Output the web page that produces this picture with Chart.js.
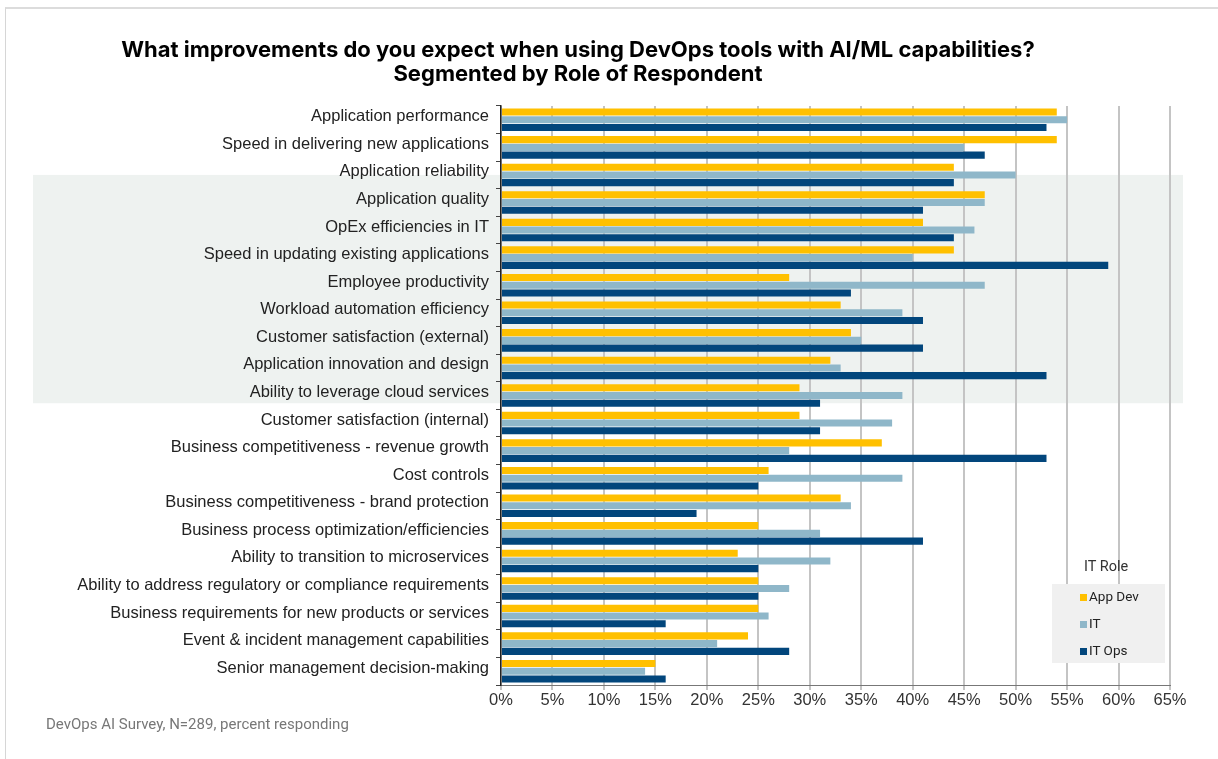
<!DOCTYPE html>
<html lang="en">
<head>
<meta charset="UTF-8">
<title>DevOps tools with AI/ML capabilities</title>
<script src="https://cdn.jsdelivr.net/npm/chart.js@4.4.0/dist/chart.umd.min.js"></script>
<style>
  body { margin: 0; background: #fff; }
  #wrap { position: relative; width: 1218px; height: 759px; overflow: hidden; }
  #frame { position: absolute; left: 5px; top: 7px; width: 1300px; height: 800px;
           border-left: 1px solid #d6d6d6; border-top: 2px solid #dcdcdc; }
  #chartBox { position: absolute; left: 0; top: 0; width: 1218px; height: 759px; }
  #title { position: absolute; left: 0; top: 37px; width: 1156px; text-align: center;
           font: 700 22px Inter, sans-serif; line-height: 24px; color: #000; }
  #note { position: absolute; left: 46px; top: 715px; font: 15px Roboto, sans-serif; color: #777; }
  #legendTitle { position: absolute; left: 1084px; top: 558px; font: 14.5px Roboto, sans-serif; color: #333; }
  #legend { position: absolute; left: 1052px; top: 584px; width: 113px; height: 79px; background: #f0f0f0; }
  #legend div { position: absolute; left: 28px; font: 13.5px Roboto, sans-serif; color: #222; }
  #legend span { display: inline-block; width: 7px; height: 7px; margin-right: 2px; }
</style>
</head>
<body>
<div id="wrap">
  <div id="frame"></div>
  <div id="chartBox"><canvas id="chart"></canvas></div>
  <div id="title">What improvements do you expect when using DevOps tools with AI/ML capabilities?<br>Segmented by Role of Respondent</div>
  <div id="legendTitle">IT Role</div>
  <div id="legend"></div>
  <div id="note">DevOps AI Survey, N=289, percent responding</div>
</div>
<script>
const categories = [
  'Application performance',
  'Speed in delivering new applications',
  'Application reliability',
  'Application quality',
  'OpEx efficiencies in IT',
  'Speed in updating existing applications',
  'Employee productivity',
  'Workload automation efficiency',
  'Customer satisfaction (external)',
  'Application innovation and design',
  'Ability to leverage cloud services',
  'Customer satisfaction (internal)',
  'Business competitiveness - revenue growth',
  'Cost controls',
  'Business competitiveness - brand protection',
  'Business process optimization/efficiencies',
  'Ability to transition to microservices',
  'Ability to address regulatory or compliance requirements',
  'Business requirements for new products or services',
  'Event & incident management capabilities',
  'Senior management decision-making'
];

// percent responding, by role
const appDev = [54, 54, 44, 47, 41, 44, 28, 33, 34, 32, 29, 29, 37, 26, 33, 25, 23, 25, 25, 24, 15];
const itRole = [55, 45, 50, 47, 46, 40, 47, 39, 35, 33, 39, 38, 28, 39, 34, 31, 32, 28, 26, 21, 14];
const itOps  = [53, 47, 44, 41, 44, 59, 34, 41, 41, 53, 31, 31, 53, 25, 19, 41, 25, 25, 16, 28, 16];

const xTicks = [0, 5, 10, 15, 20, 25, 30, 35, 40, 45, 50, 55, 60, 65];

const roles = [
  { label: 'App Dev', data: appDev, color: '#ffc000' },
  { label: 'IT', data: itRole, color: '#8fb7c9' },
  { label: 'IT Ops', data: itOps, color: '#02467c' }
];

// shaded band behind the middle group of rows
const bandPlugin = {
  id: 'band',
  beforeDraw(chart) {
    const y = chart.scales.y;
    const step = y.getPixelForValue(1) - y.getPixelForValue(0);
    const top = y.getPixelForValue(2);
    const bottom = y.getPixelForValue(10) + step * 0.28;
    const ctx = chart.ctx;
    ctx.save();
    ctx.fillStyle = '#eef2f0';
    ctx.fillRect(33, top, 1150, bottom - top);
    ctx.restore();
  }
};

const ctx = document.getElementById('chart').getContext('2d');
new Chart(ctx, {
  type: 'bar',
  data: {
    labels: categories,
    datasets: roles.map(r => ({
      label: r.label,
      data: r.data,
      backgroundColor: r.color,
      borderWidth: 0,
      barPercentage: 0.92,
      categoryPercentage: 0.84
    }))
  },
  options: {
    indexAxis: 'y',
    responsive: true,
    maintainAspectRatio: false,
    animation: false,
    layout: { padding: { top: 106, right: 48, bottom: 44, left: 0 } },
    plugins: {
      legend: { display: false },
      tooltip: { enabled: false }
    },
    scales: {
      x: {
        min: 0,
        max: 65,
        afterBuildTicks(scale) { scale.ticks = xTicks.map(v => ({ value: v })); },
        afterFit(scale) { scale.height = 30; },
        ticks: {
          callback: v => v + '%',
          color: '#333',
          padding: 1,
          maxRotation: 0,
          font: { family: 'Liberation Sans', size: 16.5 }
        },
        grid: { color: '#c4c4c4', lineWidth: 2, tickLength: 5 },
        border: { color: '#777', width: 1 }
      },
      y: {
        afterFit(scale) { scale.width = 501; },
        ticks: {
          color: '#222',
          padding: 7,
          labelOffset: -3,
          autoSkip: false,
          font: { family: 'Liberation Sans', size: 16.5 }
        },
        grid: { drawOnChartArea: false, color: '#444', tickLength: 5, offset: true },
        border: { color: '#222', width: 1.5 }
      }
    }
  },
  plugins: [bandPlugin]
});

// legend box
const legend = document.getElementById('legend');
roles.forEach((r, i) => {
  const item = document.createElement('div');
  item.style.top = (4 + i * 27) + 'px';
  item.innerHTML = '<span style="background:' + r.color + '"></span>' + r.label;
  legend.appendChild(item);
});
</script>
</body>
</html>
